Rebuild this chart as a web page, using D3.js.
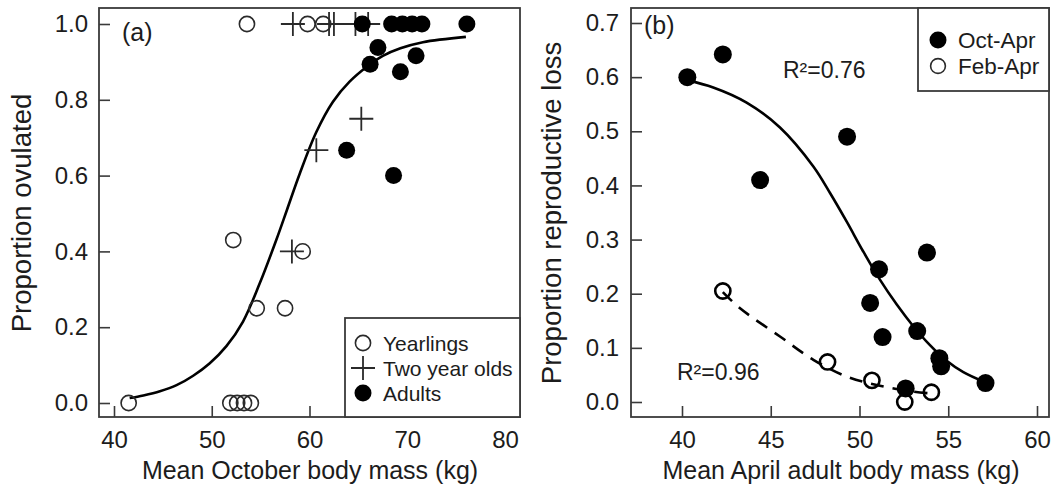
<!DOCTYPE html>
<html>
<head>
<meta charset="utf-8">
<script src="https://cdn.jsdelivr.net/npm/d3@7"></script>
<style>
  html, body { margin: 0; padding: 0; background: #fff; }
  svg { display: block; font-family: "Liberation Sans", Arial, Helvetica, sans-serif; }
</style>
</head>
<body>
<svg id="chart" width="1053" height="498"></svg>
<script>
// ---- Panel (a): proportion ovulated vs October body mass ----
const yearlingMass = [41.5, 51.9, 52.6, 53.3, 54.0, 52.2, 59.3, 54.6, 57.5, 53.6, 59.8, 61.4];
const yearlingProp = [0, 0, 0, 0, 0, 0.43, 0.40, 0.25, 0.25, 1, 1, 1];

const twoYearMass = [58.3, 62.0, 62.5, 64.7, 66.0, 65.3, 60.7, 58.2];
const twoYearProp = [1, 1, 1, 1, 1, 0.75, 0.667, 0.40];

const adultMass = [65.4, 68.4, 69.5, 70.5, 71.5, 76.1, 67.0, 66.2, 69.3, 70.9, 63.8, 68.6];
const adultProp = [1, 1, 1, 1, 1, 1, 0.938, 0.894, 0.874, 0.916, 0.667, 0.60];

// fitted ovulation curve
const fitAMass = [41.6, 43.0, 44.7, 46.4, 48.1, 49.8, 51.5, 53.2, 54.9, 56.6, 57.7, 59.0, 60.7, 62.4, 64.1, 65.9, 67.5, 69.3, 71.6, 76.0];
const fitAProp = [0.013, 0.020, 0.031, 0.047, 0.072, 0.105, 0.150, 0.215, 0.315, 0.43, 0.51, 0.605, 0.715, 0.795, 0.848, 0.888, 0.916, 0.936, 0.952, 0.966];

const xTicksA = [40, 50, 60, 70, 80];
const yTicksA = [0, 0.2, 0.4, 0.6, 0.8, 1.0];

// ---- Panel (b): proportion reproductive loss vs April adult body mass ----
const octAprMass = [40.3, 42.3, 44.4, 49.3, 51.1, 50.6, 51.3, 53.8, 53.25, 54.5, 54.6, 52.6, 57.1];
const octAprLoss = [0.60, 0.642, 0.41, 0.49, 0.245, 0.183, 0.12, 0.276, 0.131, 0.081, 0.066, 0.025, 0.035];

const febAprMass = [42.3, 48.2, 50.7, 52.55, 54.05];
const febAprLoss = [0.205, 0.074, 0.04, 0.0, 0.018];

const fitOctMass = [40.3, 41.76, 43.64, 45.52, 47.40, 48.34, 49.28, 50.21, 51.15, 52.10, 53.03, 53.97, 54.91, 55.85, 57.1];
const fitOctLoss = [0.594, 0.581, 0.553, 0.507, 0.435, 0.386, 0.333, 0.278, 0.226, 0.180, 0.140, 0.105, 0.076, 0.055, 0.036];

const fitFebMass = [42.3, 43.27, 45.52, 47.40, 49.28, 51.15, 53.03, 54.0];
const fitFebLoss = [0.203, 0.173, 0.121, 0.078, 0.047, 0.030, 0.019, 0.016];

const xTicksB = [40, 45, 50, 55, 60];
const yTicksB = [0, 0.1, 0.2, 0.3, 0.4, 0.5, 0.6, 0.7];

// ---- drawing ----
const svg = d3.select("#chart");
const ink = "#1c1c1c";
const frameInk = "#3a3a3a";

const frameA = { left: 99, right: 520, top: 8, bottom: 417 };
const frameB = { left: 631, right: 1049, top: 8, bottom: 417 };

const xA = d3.scaleLinear().domain([40, 80]).range([114, 505]);
const yA = d3.scaleLinear().domain([0, 1]).range([403, 24]);
const xB = d3.scaleLinear().domain([40, 60]).range([682, 1037]);
const yB = d3.scaleLinear().domain([0, 0.7]).range([402, 23]);

function frame(f) {
  svg.append("rect")
    .attr("x", f.left).attr("y", f.top)
    .attr("width", f.right - f.left).attr("height", f.bottom - f.top)
    .attr("fill", "none").attr("stroke", frameInk).attr("stroke-width", 1.8);
}

function axes(f, x, y, xt, yt, yPad) {
  const gx = svg.append("g")
    .attr("transform", `translate(0,${f.bottom})`)
    .call(d3.axisBottom(x).tickValues(xt).tickSize(-11).tickPadding(14).tickFormat(d3.format("d")));
  const gy = svg.append("g")
    .attr("transform", `translate(${f.left},0)`)
    .call(d3.axisLeft(y).tickValues(yt).tickSize(-11).tickPadding(yPad).tickFormat(d3.format(".1f")));
  [gx, gy].forEach(g => {
    g.select(".domain").remove();
    g.selectAll(".tick line").attr("stroke", frameInk).attr("stroke-width", 1.6);
    g.selectAll(".tick text")
      .attr("fill", ink)
      .style("font-size", "24px")
      .style("font-family", "'Liberation Sans', Arial, Helvetica, sans-serif");
  });
}

frame(frameA);
frame(frameB);
axes(frameA, xA, yA, xTicksA, yTicksA, 11);
axes(frameB, xB, yB, xTicksB, yTicksB, 12);

// axis titles
function title(text, x, y, size, rotate) {
  const t = svg.append("text")
    .attr("fill", ink)
    .attr("text-anchor", "middle")
    .style("font-size", size + "px")
    .text(text);
  if (rotate) t.attr("transform", `translate(${x},${y}) rotate(-90)`);
  else t.attr("x", x).attr("y", y);
}
title("Mean October body mass (kg)", 310, 479, 25, false);
title("Mean April adult body mass (kg)", 841, 479, 25, false);
title("Proportion ovulated", 31, 213, 27.5, true);
title("Proportion reproductive loss", 561, 213, 27.5, true);

// panel tags
svg.append("text").attr("x", 122).attr("y", 41).attr("fill", ink).style("font-size", "25px").text("(a)");
svg.append("text").attr("x", 644).attr("y", 34).attr("fill", ink).style("font-size", "25px").text("(b)");

// smooth line through the fitted-curve points
function curve(x, y) {
  return d3.line().x(d => x(d[0])).y(d => y(d[1])).curve(d3.curveCatmullRom.alpha(0.5));
}

// ---- panel (a) marks ----
svg.append("path")
  .datum(d3.zip(fitAMass, fitAProp))
  .attr("d", curve(xA, yA))
  .attr("fill", "none").attr("stroke", "#000").attr("stroke-width", 2.6);

function openCircles(mass, prop, x, y, r, w, col) {
  svg.append("g").selectAll("circle")
    .data(d3.zip(mass, prop)).join("circle")
    .attr("cx", d => x(d[0])).attr("cy", d => y(d[1])).attr("r", r)
    .attr("fill", "none").attr("stroke", col).attr("stroke-width", w);
}
function filledCircles(mass, prop, x, y, r) {
  svg.append("g").selectAll("circle")
    .data(d3.zip(mass, prop)).join("circle")
    .attr("cx", d => x(d[0])).attr("cy", d => y(d[1])).attr("r", r)
    .attr("fill", "#000");
}
function pluses(mass, prop, x, y, arm) {
  const g = svg.append("g").attr("stroke", "#2a2a2a").attr("stroke-width", 1.8);
  g.selectAll("path")
    .data(d3.zip(mass, prop)).join("path")
    .attr("d", d => {
      const cx = x(d[0]), cy = y(d[1]);
      return `M${cx - arm},${cy}H${cx + arm}M${cx},${cy - arm}V${cy + arm}`;
    });
}

openCircles(yearlingMass, yearlingProp, xA, yA, 7.6, 1.6, "#2a2a2a");
pluses(twoYearMass, twoYearProp, xA, yA, 12);
filledCircles(adultMass, adultProp, xA, yA, 8.5);

// legend (a)
const legA = { left: 345, top: 318 };
svg.append("rect")
  .attr("x", legA.left).attr("y", legA.top)
  .attr("width", frameA.right - legA.left).attr("height", frameA.bottom - legA.top)
  .attr("fill", "#fff").attr("stroke", frameInk).attr("stroke-width", 1.8);
const legAItems = ["Yearlings", "Two year olds", "Adults"];
legAItems.forEach((label, i) => {
  const cy = 343 + i * 25, cx = 363;
  if (i === 0) svg.append("circle").attr("cx", cx).attr("cy", cy).attr("r", 7.6)
    .attr("fill", "none").attr("stroke", "#2a2a2a").attr("stroke-width", 1.6);
  if (i === 1) svg.append("path").attr("d", `M${cx - 12},${cy}H${cx + 12}M${cx},${cy - 12}V${cy + 12}`)
    .attr("stroke", "#2a2a2a").attr("stroke-width", 1.8);
  if (i === 2) svg.append("circle").attr("cx", cx).attr("cy", cy).attr("r", 8.5).attr("fill", "#000");
  svg.append("text").attr("x", 383).attr("y", cy + 7.5).attr("fill", ink)
    .style("font-size", "21px").text(label);
});

// ---- panel (b) marks ----
svg.append("path")
  .datum(d3.zip(fitOctMass, fitOctLoss))
  .attr("d", curve(xB, yB))
  .attr("fill", "none").attr("stroke", "#000").attr("stroke-width", 2.6);
svg.append("path")
  .datum(d3.zip(fitFebMass, fitFebLoss))
  .attr("d", curve(xB, yB))
  .attr("fill", "none").attr("stroke", "#000").attr("stroke-width", 2.6)
  .attr("stroke-dasharray", "13,9");

filledCircles(octAprMass, octAprLoss, xB, yB, 9);
openCircles(febAprMass, febAprLoss, xB, yB, 7.6, 2.6, "#000");

svg.append("text").attr("x", 783).attr("y", 78).attr("fill", ink).style("font-size", "23px").text("R²=0.76");
svg.append("text").attr("x", 677).attr("y", 380).attr("fill", ink).style("font-size", "23px").text("R²=0.96");

// legend (b)
const legB = { left: 918, bottom: 91 };
svg.append("rect")
  .attr("x", legB.left).attr("y", frameB.top)
  .attr("width", frameB.right - legB.left).attr("height", legB.bottom - frameB.top)
  .attr("fill", "#fff").attr("stroke", frameInk).attr("stroke-width", 1.8);
const legBItems = ["Oct-Apr", "Feb-Apr"];
legBItems.forEach((label, i) => {
  const cy = 40 + i * 26, cx = 938;
  if (i === 0) svg.append("circle").attr("cx", cx).attr("cy", cy).attr("r", 8.5).attr("fill", "#000");
  else svg.append("circle").attr("cx", cx).attr("cy", cy).attr("r", 7.4)
    .attr("fill", "none").attr("stroke", "#2a2a2a").attr("stroke-width", 1.6);
  svg.append("text").attr("x", 958).attr("y", cy + 8).attr("fill", ink)
    .style("font-size", "22.5px").text(label);
});
</script>
</body>
</html>
